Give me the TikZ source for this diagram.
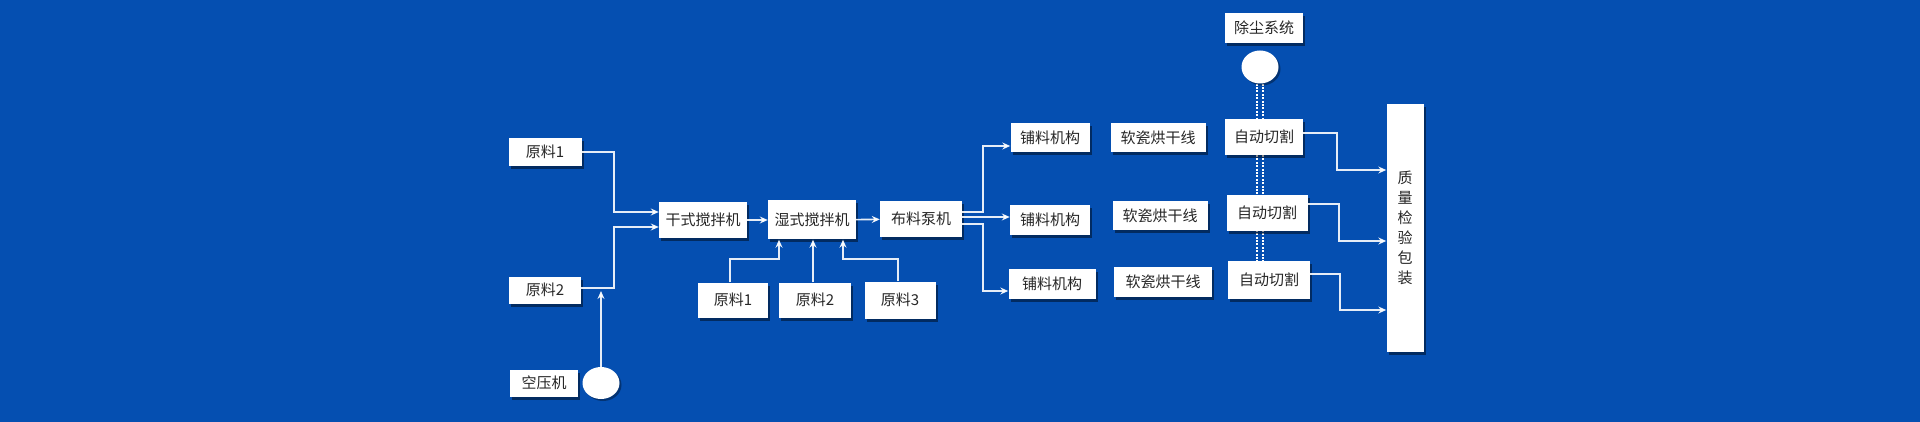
\documentclass[tikz,border=0pt]{standalone}
\usepackage{fontspec}
\newfontfamily\cjk{Noto Sans CJK SC}
\usetikzlibrary{arrows.meta,shadows,shapes.geometric}
\definecolor{bgblue}{RGB}{5,79,177}
\pgfdeclarelayer{bg}
\pgfdeclarelayer{pipes}
\pgfsetlayers{bg,pipes,main}
\begin{document}
\begin{tikzpicture}[x=1pt, y=-1pt,
    box/.style={fill=white, inner sep=0pt, text=black!85,
      font=\cjk\fontsize{15}{20}\selectfont,
      drop shadow={shadow xshift=2pt, shadow yshift=-3pt, opacity=0.45, fill=black}},
    disk/.style={ellipse, fill=white, inner sep=0pt,
      drop shadow={shadow xshift=2pt, shadow yshift=-2pt, opacity=0.35, fill=black}},
    flow/.style={draw=white, opacity=0.9, line width=1.6pt, -{Stealth[length=8pt, width=7pt]}},
    pipe/.style={white, line width=2pt, dash pattern=on 2pt off 1.4pt}]
  \begin{pgfonlayer}{bg}
    \fill[bgblue] (0,0) rectangle (1920,422);
  \end{pgfonlayer}
  % raw material and mixers
  \node[box, minimum width=73pt, minimum height=28pt] (raw1) at (545,152) {原料1};
  \node[box, minimum width=72pt, minimum height=27pt] (raw2) at (545,290) {原料2};
  \node[box, minimum width=68pt, minimum height=27pt] (air) at (544,383) {空压机};
  \node[disk, minimum width=37pt, minimum height=32pt] (airfan) at (601,383) {};
  \coordinate (airtip) at (601,291);
  \node[box, minimum width=88pt, minimum height=36pt] (dry) at (703,220) {干式搅拌机};
  \node[box, minimum width=88pt, minimum height=39pt] (wet) at (812,220) {湿式搅拌机};
  \node[box, minimum width=82pt, minimum height=36pt] (pump) at (921,219) {布料泵机};
  \node[box, minimum width=70pt, minimum height=35pt] (rawb1) at (733,300) {原料1};
  \node[box, minimum width=72pt, minimum height=35pt] (rawb2) at (815,300) {原料2};
  \node[box, minimum width=71pt, minimum height=37pt] (rawb3) at (900,300) {原料3};
  % lines
  \node[box, minimum width=79pt, minimum height=29pt] (lay1) at (1050,138) {铺料机构};
  \node[box, minimum width=80pt, minimum height=30pt] (lay2) at (1050,220) {铺料机构};
  \node[box, minimum width=87pt, minimum height=30pt] (lay3) at (1052,284) {铺料机构};
  \node[box, minimum width=95pt, minimum height=29pt] (dryer1) at (1158,138) {软瓷烘干线};
  \node[box, minimum width=95pt, minimum height=29pt] (dryer2) at (1160,216) {软瓷烘干线};
  \node[box, minimum width=98pt, minimum height=30pt] (dryer3) at (1163,282) {软瓷烘干线};
  \node[box, minimum width=78pt, minimum height=30pt] (dust) at (1264,28) {除尘系统};
  \node[disk, minimum width=37pt, minimum height=33pt] (dustfan) at (1260,67) {};
  \node[box, minimum width=78pt, minimum height=36pt] (cut1) at (1264,137) {自动切割};
  \node[box, minimum width=81pt, minimum height=36pt] (cut2) at (1267,213) {自动切割};
  \node[box, minimum width=82pt, minimum height=37pt] (cut3) at (1269,280) {自动切割};
  \node[box, minimum width=37pt, minimum height=248pt, align=center] (qc) at (1405,228) {质\\量\\检\\验\\包\\装};
  % connectors
  \draw[flow] (raw1.east) -- ++(32,0) |- ([yshift=8pt]dry.west);
  \draw[flow] ([yshift=2pt]raw2.east) -- ++(33,0) |- ([yshift=-7pt]dry.west);
  \draw[flow] (airfan.north) -- (airtip);
  \draw[flow] (dry) -- (wet);
  \draw[flow] (wet) -- (pump);
  \draw[flow] ([xshift=-3pt]rawb1.north) -- ++(0,-23) -| ([xshift=-33pt]wet.south);
  \draw[flow] ([xshift=-2pt]rawb2.north) -- ([xshift=-2pt]rawb2.north |- wet.south);
  \draw[flow] ([xshift=-2pt]rawb3.north) -- ++(0,-22) -| ([xshift=31pt]wet.south);
  \draw[flow] ([yshift=7pt]pump.east) -- ++(21,0) |- ([yshift=-8pt]lay1.west);
  \draw[flow] ([yshift=2pt]pump.east) -- ([yshift=2pt]pump.east -| lay2.west);
  \draw[flow] ([yshift=-5pt]pump.east) -- ++(21,0) |- ([yshift=-7pt]lay3.west);
  \draw[flow] ([yshift=4pt]cut1.east) -- ++(34,0) |- ([yshift=58pt]qc.west);
  \draw[flow] ([yshift=9pt]cut2.east) -- ++(31,0) |- ([yshift=-13pt]qc.west);
  \draw[flow] ([yshift=6pt]cut3.east) -- ++(30,0) |- ([yshift=-82pt]qc.west);
  \begin{pgfonlayer}{pipes}
    \draw[pipe] ([xshift=-3pt]dustfan.south) -- ([xshift=-3pt]dustfan.south |- cut3.north);
    \draw[pipe] ([xshift=3pt]dustfan.south) -- ([xshift=3pt]dustfan.south |- cut3.north);
  \end{pgfonlayer}
\end{tikzpicture}
\end{document}
